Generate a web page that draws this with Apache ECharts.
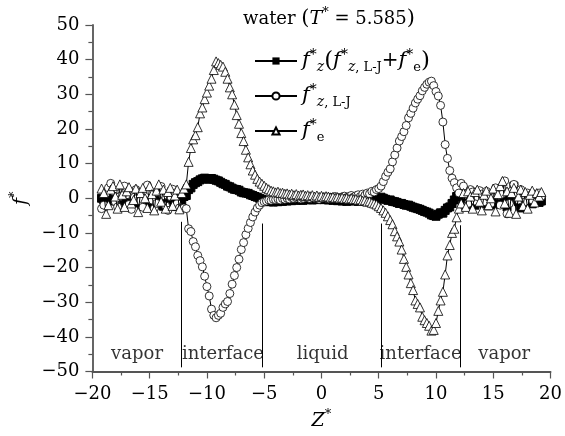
<!DOCTYPE html>
<html>
<head>
<meta charset="utf-8">
<script src="https://cdn.jsdelivr.net/npm/echarts@6/dist/echarts.min.js"></script>
<style>
html, body { margin: 0; padding: 0; background: #fff; }
#chart { width: 565px; height: 436px; }
</style>
</head>
<body>
<div id="chart"></div>
<script>
// Z* sampling positions
var zValues = [
  -19.2, -19.0, -18.8, -18.6, -18.4, -18.2, -18.0, -17.8, -17.6, -17.4,
  -17.2, -17.0, -16.8, -16.6, -16.4, -16.2, -16.0, -15.8, -15.6, -15.4,
  -15.2, -15.0, -14.8, -14.6, -14.4, -14.2, -14.0, -13.8, -13.6, -13.4,
  -13.2, -13.0, -12.8, -12.6, -12.4, -12.2, -12.0, -11.8, -11.6, -11.4,
  -11.2, -11.0, -10.8, -10.6, -10.4, -10.2, -10.0, -9.8, -9.6, -9.4,
  -9.2, -9.0, -8.8, -8.6, -8.4, -8.2, -8.0, -7.8, -7.6, -7.4,
  -7.2, -7.0, -6.8, -6.6, -6.4, -6.2, -6.0, -5.8, -5.6, -5.4,
  -5.2, -5.0, -4.8, -4.6, -4.4, -4.2, -4.0, -3.8, -3.6, -3.4,
  -3.2, -3.0, -2.8, -2.6, -2.4, -2.2, -2.0, -1.8, -1.6, -1.4,
  -1.2, -1.0, -0.8, -0.6, -0.4, -0.2, 0.0, 0.2, 0.4, 0.6,
  0.8, 1.0, 1.2, 1.4, 1.6, 1.8, 2.0, 2.2, 2.4, 2.6,
  2.8, 3.0, 3.2, 3.4, 3.6, 3.8, 4.0, 4.2, 4.4, 4.6,
  4.8, 5.0, 5.2, 5.4, 5.6, 5.8, 6.0, 6.2, 6.4, 6.6,
  6.8, 7.0, 7.2, 7.4, 7.6, 7.8, 8.0, 8.2, 8.4, 8.6,
  8.8, 9.0, 9.2, 9.4, 9.6, 9.8, 10.0, 10.2, 10.4, 10.6,
  10.8, 11.0, 11.2, 11.4, 11.6, 11.8, 12.0, 12.2, 12.4, 12.6,
  12.8, 13.0, 13.2, 13.4, 13.6, 13.8, 14.0, 14.2, 14.4, 14.6,
  14.8, 15.0, 15.2, 15.4, 15.6, 15.8, 16.0, 16.2, 16.4, 16.6,
  16.8, 17.0, 17.2, 17.4, 17.6, 17.8, 18.0, 18.2, 18.4, 18.6,
  18.8, 19.0, 19.2
];

// f*_z  (total = L-J + electrostatic), filled squares
var fTotal = [
  0, -0.5, 0.2, -0.3, 0.5, -0.8, -0.2, -1.0, 0.3, -0.5,
  -1.2, -0.4, -0.9, -1.5, -0.6, -1.1, -0.3, -1.4, -0.8, -1.8,
  -1.0, -0.5, -1.6, -2.0, -1.2, -0.7, -1.9, -2.3, -1.4, -2.5,
  -1.6, -2.0, -1.1, -2.4, -1.8, -1.0, 0.5, 0.8, 2.5, 3.0,
  4.0, 4.5, 4.8, 5.3, 5.6, 5.8, 5.6, 5.5, 5.7, 5.5,
  5.2, 5.0, 4.6, 4.2, 4.0, 3.5, 3.3, 2.9, 2.6, 2.5,
  2.3, 1.8, 1.6, 1.5, 1.4, 1.0, 0.8, 0.5, 0.3, 0.0,
  -0.3, -0.5, -0.8, -1.0, -0.9, -1.1, -0.8, -1.0, -0.7, -0.9,
  -0.6, -0.8, -0.5, -0.7, -0.4, -0.6, -0.3, -0.5, -0.6, -0.2,
  -0.4, -0.3, -0.5, -0.2, -0.4, -0.1, -0.3, -0.4, -0.2, -0.5,
  -0.3, -0.6, -0.4, -0.7, -0.5, -0.8, -0.6, -0.9, -0.7, -0.5,
  -0.8, -0.6, -0.9, -0.7, -0.5, -0.8, -0.6, -0.4, -0.7, -0.3,
  -0.5, -0.2, 0.3, 0.0, -0.3, -0.6, -0.5, -0.9, -1.0, -1.2,
  -1.5, -1.5, -1.8, -2.0, -2.0, -2.3, -2.6, -2.8, -3.0, -3.2,
  -3.5, -3.8, -4.0, -4.3, -4.8, -5.0, -5.2, -4.6, -4.2, -4.3,
  -3.5, -2.8, -2.5, -1.5, -0.5, 0.5, 1.5, 0.8, -0.5, -1.8,
  -1.0, 0.2, -1.5, -2.0, -0.8, -1.2, 0.0, -1.6, -0.9, -2.2,
  -1.0, -0.4, -1.8, -1.2, 0.3, -0.6, -1.5, -2.5, -0.5, 1.0,
  3.5, 2.0, -1.0, -2.8, -1.5, -0.8, -1.3, -0.5, -1.6, -1.0,
  -0.7, -1.2, -0.8
];

// f*_z,L-J, open circles
var fLJ = [
  -3.0, -2.0, 1.5, 3.0, 4.3, 2.0, -1.0, -2.5, 0.5, 2.8,
  3.5, 1.0, -1.8, -3.2, 0.2, 2.5, 1.8, -0.8, -2.6, 1.2,
  3.8, 2.2, -0.5, -3.0, -1.5, 2.0, 3.4, 0.8, -2.2, -3.5,
  0.5, 2.6, 1.5, -1.5, -2.8, -3.0, -2.8, -3.0, -8.8, -9.6,
  -12.5, -14.0, -16.5, -18.0, -19.8, -22.5, -25.5, -28.2, -32.0, -33.8,
  -34.5, -33.8, -33.2, -31.5, -30.5, -29.8, -27.5, -24.8, -22.3, -20.0,
  -17.6, -14.8, -12.8, -10.5, -8.7, -7.0, -5.4, -4.0, -2.8, -2.0,
  -1.3, -1.0, -0.8, -0.5, -0.6, -0.3, -0.4, -0.2, -0.5, -0.1,
  -0.3, 0.0, -0.2, 0.2, -0.1, 0.1, 0.3, -0.2, 0.0, 0.4,
  0.1, -0.1, 0.3, 0.0, 0.2, -0.3, 0.1, 0.4, 0.0, -0.2,
  0.3, 0.1, 0.5, 0.2, -0.1, 0.4, 0.6, 0.2, 0.5, 0.8,
  0.3, 0.7, 1.0, 0.5, 1.2, 0.9, 1.5, 1.3, 2.0, 1.8,
  2.5, 2.8, 3.5, 4.8, 6.3, 7.5, 8.5, 10.5, 12.5, 14.5,
  16.5, 17.8, 19.2, 21.0, 23.2, 24.5, 26.0, 27.5, 28.6, 29.6,
  31.0, 32.0, 32.9, 33.5, 33.8, 32.5, 30.8, 29.5, 26.8, 22.0,
  15.5, 11.5, 8.0, 5.8, 4.5, 3.0, 1.5, 4.3, 3.5, 1.0,
  -1.5, 2.5, 1.8, -0.8, 0.5, 2.2, 1.2, -1.0, 2.0, 0.3,
  -1.5, 1.5, 3.0, 0.8, -2.0, 1.2, 5.0, -4.5, -1.5, 2.0,
  4.0, 1.0, -0.5, 2.5, 0.2, -1.0, 1.5, 0.8, -0.5, 1.2,
  0.3, 1.5, 0.5
];

// f*_e, open triangles
var fElec = [
  2.8, 1.5, -4.5, -2.0, 2.5, 3.5, 0.5, -3.0, 4.0, 1.0,
  -2.5, 2.0, 3.2, -1.5, -0.5, 2.8, -4.0, 1.5, 3.0, 0.0,
  -2.8, 3.5, 1.2, -3.5, 2.2, 4.0, -1.0, 2.5, -3.0, 1.8,
  3.0, -2.2, 0.8, 2.5, -3.2, 1.5, 2.8, 4.0, 10.5, 14.5,
  17.0, 18.2, 20.5, 24.5, 26.2, 28.6, 30.5, 32.5, 34.5, 37.0,
  39.5, 39.0, 38.5, 38.0, 36.5, 34.5, 32.0, 30.0, 27.0, 24.0,
  21.5, 18.8, 16.5, 14.0, 11.8, 9.8, 8.0, 6.8, 5.6, 4.8,
  4.2, 3.6, 3.0, 2.6, 2.2, 2.0, 1.7, 1.9, 1.5, 1.6,
  1.3, 1.4, 1.1, 1.3, 0.9, 1.2, 0.8, 1.0, 1.1, 0.7,
  0.9, 0.6, 0.9, 0.5, 0.8, 0.4, 0.7, 0.3, 0.6, 0.5,
  0.2, 0.4, 0.1, 0.3, 0.0, 0.2, -0.1, 0.1, -0.2, 0.0,
  -0.3, -0.2, -0.5, -0.3, -0.7, -0.6, -1.0, -0.9, -1.3, -1.5,
  -1.8, -2.3, -2.8, -3.5, -4.2, -5.2, -6.3, -7.5, -9.5, -11.0,
  -12.5, -14.8, -17.5, -19.8, -22.0, -24.5, -26.5, -29.5, -30.5, -31.5,
  -34.2, -35.2, -36.0, -36.8, -38.2, -38.0, -36.0, -32.5, -29.5, -27.0,
  -22.0, -16.5, -13.5, -10.0, -8.8, -5.5, -3.0, -1.5, 1.5, -2.5,
  2.0, 0.5, -3.0, 1.8, 2.5, -1.0, -3.5, 1.0, 2.2, -2.0,
  0.0, 2.8, -3.8, 1.2, 3.5, 5.0, -1.5, 2.0, -4.2, 1.5,
  3.0, -4.5, 0.5, 2.5, -2.2, 1.8, -3.0, 1.0, 2.2, -1.2,
  1.5, 0.5, 1.8
];

// region boundaries and labels
var boundaryZ = [-12.2, -5.2, 5.2, 12.1];
var boundaryTop = [-6.8, -7.3, -7.3, -7.8];
var boundaryBottom = -48.8;
var regionNames = ["vapor", "interface", "liquid", "interface", "vapor"];
var regionZ = [-16.1, -8.6, 0.1, 8.65, 15.95];
var regionF = -45;

var serif = '"DejaVu Serif", "Liberation Serif", serif';

function pairs(ys) {
  return zValues.map(function (z, i) {
    return [z, ys[i]];
  });
}

function minusLabel(v) {
  return v < 0 ? "\u2212" + Math.abs(v) : String(v);
}

var rich = {
  it: { fontFamily: serif, fontStyle: "italic", fontWeight: "normal", fontSize: 19, lineHeight: 26, color: "#000" },
  rm: { fontFamily: serif, fontWeight: "normal", fontSize: 18, lineHeight: 26, color: "#000" },
  big: { fontFamily: serif, fontWeight: "normal", fontSize: 21, lineHeight: 26, color: "#000" },
  sup: { fontFamily: serif, fontWeight: "normal", fontSize: 13, lineHeight: 14, verticalAlign: "top", color: "#000" },
  sub: { fontFamily: serif, fontWeight: "normal", fontSize: 12, lineHeight: 15, verticalAlign: "bottom", color: "#000" },
  subIt: { fontFamily: serif, fontStyle: "italic", fontWeight: "normal", fontSize: 13, lineHeight: 15, verticalAlign: "bottom", color: "#000" }
};

// slightly larger set for the legend entries
var legendRich = {
  it: { fontFamily: serif, fontStyle: "italic", fontWeight: "normal", fontSize: 21, lineHeight: 26, color: "#000" },
  rm: { fontFamily: serif, fontWeight: "normal", fontSize: 20, lineHeight: 26, color: "#000" },
  big: { fontFamily: serif, fontWeight: "normal", fontSize: 23, lineHeight: 26, color: "#000" },
  sup: { fontFamily: serif, fontWeight: "normal", fontSize: 14, lineHeight: 14, verticalAlign: "top", color: "#000" },
  sub: { fontFamily: serif, fontWeight: "normal", fontSize: 13, lineHeight: 15, verticalAlign: "bottom", color: "#000" },
  subIt: { fontFamily: serif, fontStyle: "italic", fontWeight: "normal", fontSize: 14, lineHeight: 15, verticalAlign: "bottom", color: "#000" }
};

var legendText = {
  fz: "{it|f}{sup|*}{subIt|z}{big|(}{it|f}{sup|*}{subIt|z}{sub|, L-J}{rm|+}{it|f}{sup|*}{sub|e}{big|)}",
  fLJ: "{it|f}{sup|*}{subIt|z}{sub|, L-J}",
  fe: "{it|f}{sup|*}{sub|e}"
};

var chart = echarts.init(document.getElementById("chart"));

var option = {
  animation: false,
  backgroundColor: "#fff",
  title: {
    text: "{rm|water }{big|(}{it|T}{sup|*}{rm| = 5.585}{big|)}",
    left: 238,
    top: 1,
    textStyle: { fontWeight: "normal", rich: rich }
  },
  legend: {
    data: ["fz", "fLJ", "fe"],
    orient: "vertical",
    left: 249,
    top: 43,
    itemWidth: 42,
    itemHeight: 9,
    itemGap: 9,
    formatter: function (name) {
      return legendText[name];
    },
    textStyle: { rich: legendRich }
  },
  grid: {
    left: 79,
    right: 8,
    top: 25,
    bottom: 61
  },
  xAxis: {
    type: "value",
    min: -20,
    max: 20,
    interval: 5,
    name: "{it|Z}{sup|*}",
    nameLocation: "middle",
    nameGap: 37,
    nameTextStyle: { rich: rich },
    axisLine: { onZero: false, lineStyle: { color: "#555", width: 1.8 } },
    axisTick: { inside: false, length: 7, lineStyle: { color: "#555", width: 1.2 } },
    minorTick: { show: true, splitNumber: 2, length: 4, lineStyle: { color: "#555", width: 1.2 } },
    splitLine: { show: false },
    axisLabel: {
      formatter: minusLabel,
      fontFamily: serif,
      fontSize: 18,
      color: "#000",
      margin: 14
    }
  },
  yAxis: {
    type: "value",
    min: -50,
    max: 50,
    interval: 10,
    name: "{it|f}{sup|*}",
    nameLocation: "middle",
    nameGap: 55,
    nameRotate: 90,
    nameTextStyle: { rich: rich },
    axisLine: { show: true, onZero: false, lineStyle: { color: "#555", width: 1.8 } },
    axisTick: { show: true, inside: false, length: 7, lineStyle: { color: "#555", width: 1.2 } },
    minorTick: { show: true, splitNumber: 2, length: 4, lineStyle: { color: "#555", width: 1.2 } },
    splitLine: { show: false },
    axisLabel: {
      formatter: minusLabel,
      fontFamily: serif,
      fontSize: 18,
      color: "#000",
      margin: 13
    }
  },
  series: [
    {
      name: "fz",
      type: "line",
      data: pairs(fTotal),
      symbol: "rect",
      symbolSize: 8,
      itemStyle: { color: "#000", borderColor: "#000" },
      lineStyle: { color: "#000", width: 1 },
      z: 2
    },
    {
      name: "fLJ",
      type: "line",
      data: pairs(fLJ),
      symbol: "circle",
      symbolSize: 8,
      itemStyle: { color: "#fff", borderColor: "#000", borderWidth: 0.8 },
      lineStyle: { color: "#000", width: 1 },
      z: 3
    },
    {
      name: "fe",
      type: "line",
      data: pairs(fElec),
      symbol: "triangle",
      symbolSize: 9,
      itemStyle: { color: "#fff", borderColor: "#000", borderWidth: 0.8 },
      lineStyle: { color: "#000", width: 1 },
      z: 4
    },
    {
      name: "regions",
      type: "scatter",
      symbolSize: 0,
      silent: true,
      data: regionZ.map(function (z, i) {
        return [z, regionF, regionNames[i]];
      }),
      label: {
        show: true,
        position: "inside",
        formatter: function (p) {
          return p.value[2];
        },
        fontFamily: serif,
        fontSize: 18,
        color: "#000"
      },
      markLine: {
        silent: true,
        symbol: ["none", "none"],
        label: { show: false },
        lineStyle: { color: "#000", width: 1, type: "solid" },
        data: boundaryZ.map(function (z, i) {
          return [{ coord: [z, boundaryBottom] }, { coord: [z, boundaryTop[i]] }];
        })
      }
    }
  ]
};

chart.setOption(option);
</script>
</body>
</html>
